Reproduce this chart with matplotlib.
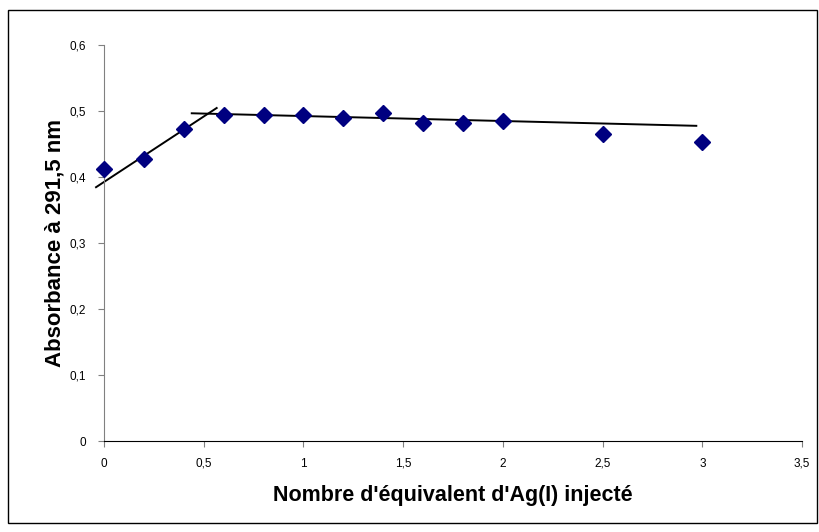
import matplotlib.pyplot as plt
from matplotlib.ticker import FuncFormatter, MultipleLocator
from matplotlib.patches import Rectangle

plt.rcParams['font.family'] = ['Liberation Sans', 'DejaVu Sans']

# Data
equiv = [0, 0.2, 0.4, 0.6, 0.8, 1.0, 1.2, 1.4, 1.6, 1.8, 2.0, 2.5, 3.0]
absorb = [0.412, 0.428, 0.473, 0.494, 0.495, 0.494, 0.490, 0.498, 0.483, 0.483, 0.485, 0.466, 0.453]

# hand-drawn trend segments (endpoints)
rise_x = [-0.04, 0.565]
rise_y = [0.385, 0.505]
plateau_x = [0.44, 2.97]
plateau_y = [0.497, 0.478]

fig = plt.figure(figsize=(8.2, 5.32), dpi=100)
ax = fig.add_axes([104 / 820, 1 - 441.3 / 532, (802 - 104) / 820, (441.3 - 45.3) / 532])

ax.plot(rise_x, rise_y, color='black', lw=1.4, clip_on=False, zorder=2)
ax.plot(plateau_x, plateau_y, color='black', lw=1.4, clip_on=False, zorder=2)
ax.plot(equiv, absorb, linestyle='none', marker='D', ms=8, color='#000080',
        markeredgecolor='#000080', clip_on=False, zorder=3)

ax.set_xlim(0, 3.5)
ax.set_ylim(0, 0.6)
ax.xaxis.set_major_locator(MultipleLocator(0.5))
ax.yaxis.set_major_locator(MultipleLocator(0.1))


def comma(v, pos):
    s = ('%.1f' % v).rstrip('0').rstrip('.')
    return s.replace('.', ',')


ax.xaxis.set_major_formatter(FuncFormatter(comma))
ax.yaxis.set_major_formatter(FuncFormatter(comma))

for side in ('top', 'right'):
    ax.spines[side].set_visible(False)
ax.spines['left'].set_color('#808080')
ax.spines['bottom'].set_color('black')
ax.tick_params(axis='both', direction='out', length=4, labelsize=8.5)
ax.tick_params(axis='y', colors='#808080', labelcolor='black', pad=9)
ax.tick_params(axis='x', colors='#808080', labelcolor='black', pad=8)

ax.set_xlabel("Nombre d'équivalent d'Ag(I) injecté", fontsize=15.5, fontweight='bold', labelpad=11)
ax.set_ylabel("Absorbance à 291,5 nm", fontsize=16, fontweight='bold', labelpad=3)

fig.patches.append(Rectangle((8 / 820, 1 - 523 / 532), 809 / 820, 513 / 532,
                             transform=fig.transFigure, fill=False,
                             edgecolor='black', lw=1))

fig.savefig('out.png', dpi=100)
